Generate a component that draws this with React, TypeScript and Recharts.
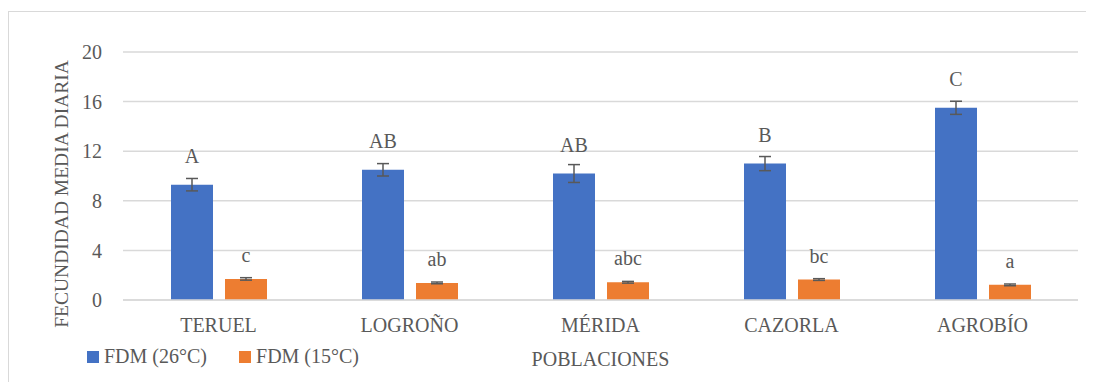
import { BarChart, Bar, XAxis, YAxis, CartesianGrid, ErrorBar, LabelList, Label } from "recharts";

// poblaciones
const categories = ["TERUEL", "LOGROÑO", "MÉRIDA", "CAZORLA", "AGROBÍO"];

// FDM (26°C)
const fdm26 = [9.3, 10.5, 10.2, 11.0, 15.5];
const fdm26Err = [0.5, 0.5, 0.72, 0.57, 0.53];
const fdm26Letters = ["A", "AB", "AB", "B", "C"];

// FDM (15°C)
const fdm15 = [1.7, 1.38, 1.43, 1.65, 1.22];
const fdm15Err = [0.1, 0.07, 0.07, 0.07, 0.07];
const fdm15Letters = ["c", "ab", "abc", "bc", "a"];

const yTicks = [0, 4, 8, 12, 16, 20];

const data = categories.map((name, i) => ({
  name,
  fdm26: fdm26[i],
  fdm26Err: fdm26Err[i],
  fdm26Letter: fdm26Letters[i],
  fdm15: fdm15[i],
  fdm15Err: fdm15Err[i],
  fdm15Letter: fdm15Letters[i],
}));

const FONT = "'Liberation Serif', serif";
const TEXT = "#595959";
const BLUE = "#4472C4";
const ORANGE = "#ED7D31";

const letterLabel = (gap: number) => (props: any) => {
  const { x, y, width, value } = props;
  return (
    <text
      x={x + width / 2}
      y={y - gap}
      textAnchor="middle"
      fill={TEXT}
      fontSize={20}
      fontFamily={FONT}
    >
      {value}
    </text>
  );
};

const App = () => {
  return (
    <div
      style={{
        position: "relative",
        marginTop: 3,
        width: 1086,
        height: 371,
        borderLeft: "1px solid #d9d9d9",
        borderTop: "1px solid #d9d9d9",
        fontFamily: FONT,
      }}
    >
      <BarChart
        width={1085}
        height={370}
        data={data}
        margin={{ top: 40, right: 16, left: 0, bottom: 52 }}
        barSize={42}
        barGap={12}
      >
        <CartesianGrid vertical={false} stroke="#d9d9d9" strokeWidth={1.5} />
        <XAxis
          dataKey="name"
          height={30}
          axisLine={{ stroke: "#d9d9d9", strokeWidth: 1.5 }}
          tickLine={false}
          tickMargin={12}
          tick={{ fill: TEXT, fontSize: 20, fontFamily: FONT }}
        >
          <Label
            content={(p: any) => {
              const vb = p.viewBox;
              return (
                <text
                  x={vb.x + vb.width / 2}
                  y={vb.y + 66}
                  textAnchor="middle"
                  fill={TEXT}
                  fontSize={20}
                  fontFamily={FONT}
                >
                  POBLACIONES
                </text>
              );
            }}
          />
        </XAxis>
        <YAxis
          width={114}
          domain={[0, 20]}
          ticks={yTicks}
          axisLine={false}
          tickLine={false}
          tickMargin={15}
          tick={{ fill: TEXT, fontSize: 20, fontFamily: FONT }}
        >
          <Label
            content={() => (
              <text
                x={59}
                y={182}
                transform="rotate(-90 59 182)"
                textAnchor="middle"
                fill={TEXT}
                fontSize={19.5}
                fontFamily={FONT}
              >
                FECUNDIDAD MEDIA DIARIA
              </text>
            )}
          />
        </YAxis>
        <Bar dataKey="fdm26" fill={BLUE} isAnimationActive={false}>
          <ErrorBar dataKey="fdm26Err" width={6} stroke={TEXT} strokeWidth={1.5} />
          <LabelList dataKey="fdm26Letter" content={letterLabel(22)} />
        </Bar>
        <Bar dataKey="fdm15" fill={ORANGE} isAnimationActive={false}>
          <ErrorBar dataKey="fdm15Err" width={6} stroke={TEXT} strokeWidth={1.5} />
          <LabelList dataKey="fdm15Letter" content={letterLabel(17)} />
        </Bar>
      </BarChart>
      <div
        style={{
          position: "absolute",
          left: 78,
          top: 333,
          display: "flex",
          alignItems: "center",
          color: TEXT,
          fontSize: 20,
          fontFamily: FONT,
          whiteSpace: "nowrap",
        }}
      >
        <span style={{ width: 12, height: 12, background: BLUE, marginRight: 5 }} />
        <span style={{ marginRight: 32 }}>FDM (26°C)</span>
        <span style={{ width: 12, height: 12, background: ORANGE, marginRight: 5 }} />
        <span>FDM (15°C)</span>
      </div>
    </div>
  );
};

export default App;
